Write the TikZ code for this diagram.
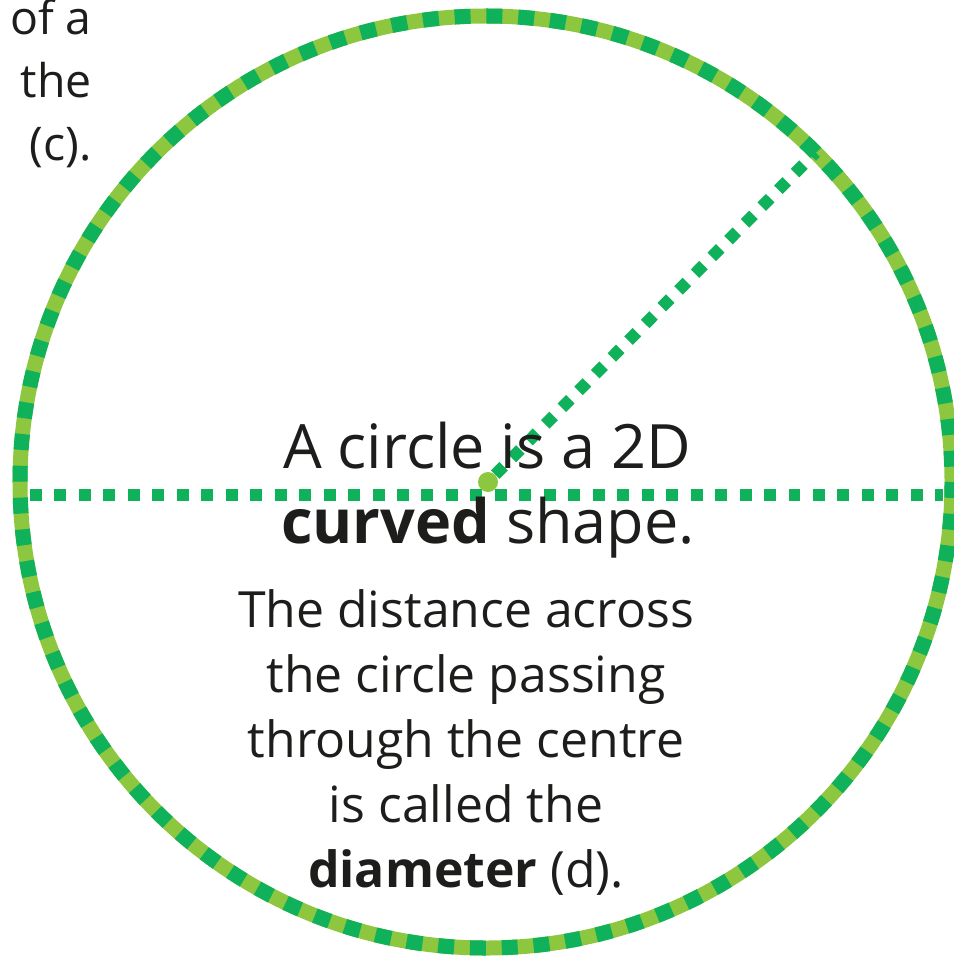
\documentclass[tikz,border=0pt]{standalone}
\usepackage{fontspec}
\setmainfont{Open Sans}
\usetikzlibrary{calc}
\definecolor{Ring}{HTML}{0FB25A}
\definecolor{RingLight}{HTML}{8DC63F}
\definecolor{Ink}{HTML}{1D1D1B}

\begin{document}
\begin{tikzpicture}[x=0.025cm,y=-0.025cm,every node/.style={text=Ink,inner sep=0pt},big/.style={font=\fontsize{43.5}{50}\selectfont,anchor=base},small/.style={font=\fontsize{35.5}{46}\selectfont,anchor=base},dots/.style={draw=Ring,line width=0.3cm,dash pattern=on 8.5pt off 8.9pt},hub/.style={circle,fill=RingLight,minimum size=0.5cm}]
\useasboundingbox (0,0) rectangle (953,958);
\coordinate (c) at (486,482);
\coordinate (p) at ($(c)+(-45:466)$);
\coordinate (l) at (30,495);
\coordinate (r) at (943,495);
% ring
\draw[RingLight,line width=0.375cm] (c) circle[radius=466];
\draw[Ring,line width=0.375cm,dash pattern=on 11.32pt off 11.32pt] (c) circle[radius=466];
% diameter and radius
\draw[dots] (l) -- (r);
\node[hub] (o) at (488,482) {};
\draw[dots,dash pattern=on 8.5pt off 8.3pt] (o) -- (p);
% text
\node[big] (t1) at (487,468) {A circle is a 2D};
\node[big] (t2) at (488,543) {\textbf{curved} shape.};
\foreach \line [count=\i] in {The distance across,the circle passing,through the centre,is called the,{\textbf{diameter} (d).}}
  \node[small] (d\i) at (466,562+65*\i) {\line};
\foreach \line [count=\i] in {of a,the,(c).}
  \node[small,font=\fontsize{33}{46}\selectfont,anchor=base east] (e\i) at (92,-28+63*\i) {\line};
\end{tikzpicture}
\end{document}
